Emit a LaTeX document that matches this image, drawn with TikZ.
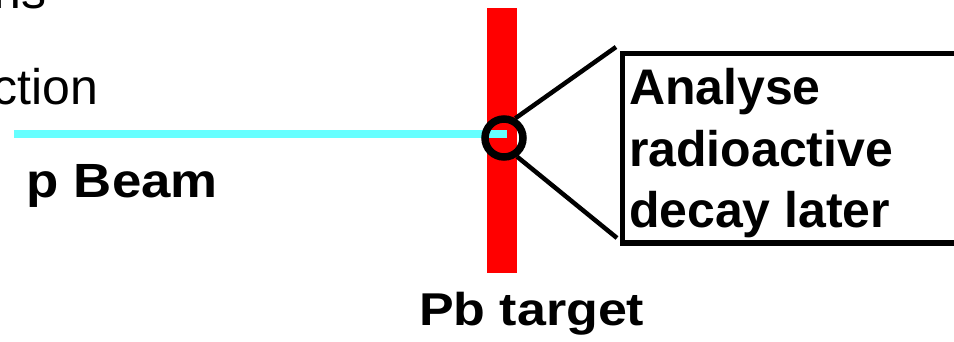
\documentclass[tikz,border=0pt]{standalone}
\usepackage{fontspec}
\setmainfont{Liberation Sans}
\definecolor{beamcyan}{RGB}{102,255,255}
\definecolor{targetred}{RGB}{255,0,0}
\begin{document}
\begin{tikzpicture}[x=1pt,y=-1pt,
  txt/.style={inner sep=0pt, outer sep=0pt},
  plain/.style={txt, font=\fontsize{50}{60}\selectfont},
  bold/.style={txt, font=\fontsize{48}{58}\selectfont\bfseries},
  boxtxt/.style={txt, anchor=base west, font=\fontsize{50}{60}\selectfont\bfseries},
  link/.style={draw=black, line width=4.5pt}]
\useasboundingbox (0,0) rectangle (954,341);
\clip (0,0) rectangle (954,341);
% target bar
\fill[targetred] (487,8) rectangle (517,273);
% beam
\node[txt] (beamstart) at (14,134) {};
\coordinate (beamend) at (507,134);
\draw[beamcyan, line width=8.5pt] (beamstart.center) -- (beamend);
% interaction circle
\node[draw=black, line width=7.5pt, circle, minimum size=38pt, inner sep=0pt] (circ) at (504,138) {};
% box
\node[draw=black, line width=5.5pt, anchor=north west, minimum width=420pt, minimum height=189.5pt, inner sep=0pt] (box) at (619.5,50.5) {};
\coordinate (topc) at (616,47);
\coordinate (botc) at (617,238);
\draw[link] (circ.60) -- (topc);
\draw[link] (circ.-55) -- (botc);
% texts
\node[plain, anchor=base west] (ns) at (-6,8) {ns};
\node[plain, anchor=base east] (ction) at (98,104) {ction};
\node[bold, anchor=base west, xscale=1.1] (beamlbl) at (27,197) {p Beam};
\node[bold, anchor=base west, xscale=1.13, font=\fontsize{46}{56}\selectfont\bfseries] (pb) at (419,325) {Pb target};
\node[boxtxt] (l1) at (629,104) {Analyse};
\node[boxtxt] (l2) at (629,166) {radioactive};
\node[boxtxt] (l3) at (629,227) {decay later};
\end{tikzpicture}
\end{document}
